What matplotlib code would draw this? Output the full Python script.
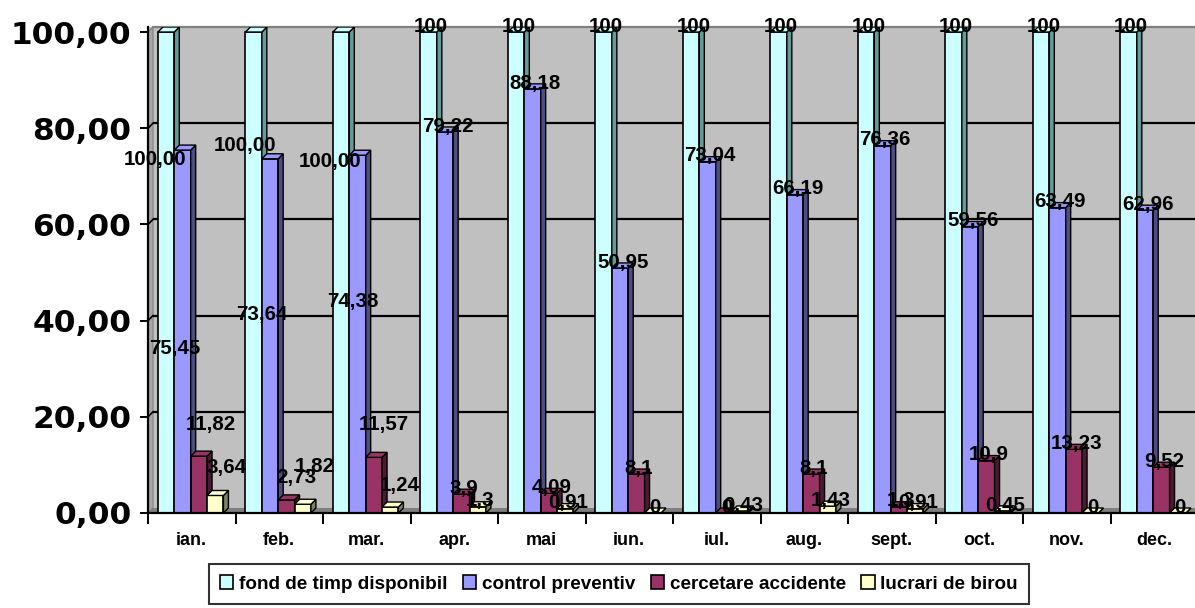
import matplotlib
matplotlib.use("Agg")
import matplotlib.pyplot as plt
from matplotlib.patches import Polygon, Patch
import numpy as np

# ---------------- data ----------------
months = ["ian.", "feb.", "mar.", "apr.", "mai", "iun.", "iul.", "aug.", "sept.", "oct.", "nov.", "dec."]
series_names = ["fond de timp disponibil", "control preventiv", "cercetare accidente", "lucrari de birou"]
fond = [100, 100, 100, 100, 100, 100, 100, 100, 100, 100, 100, 100]
control = [75.45, 73.64, 74.38, 79.22, 88.18, 50.95, 73.04, 66.19, 76.36, 59.56, 63.49, 62.96]
cercetare = [11.82, 2.73, 11.57, 3.9, 4.09, 8.1, 0, 8.1, 1.3, 10.9, 13.23, 9.52]
lucrari = [3.64, 1.82, 1.24, 1.3, 0.91, 0, 0.43, 1.43, 0.91, 0.45, 0, 0]
yticks = [0, 20, 40, 60, 80, 100]
ytick_labels = ["0,00", "20,00", "40,00", "60,00", "80,00", "100,00"]

# label text: first three months shown with two decimals
def fmt(v, m):
    if m < 3:
        return f"{v:.2f}".replace(".", ",")
    s = f"{v:g}"
    return s.replace(".", ",")

# label placement overrides for the first three months (Excel's odd placement)
label_override = {
    (0, 0): (-0.42, 73.4), (0, 1): (-0.19, 34.1), (0, 2): (0.22, 18.3), (0, 3): (0.40, 9.4),
    (1, 0): (0.61, 76.5), (1, 1): (0.80, 41.2), (1, 2): (1.20, 7.3), (1, 3): (1.41, 9.6),
    (2, 0): (1.58, 73.0), (2, 1): (1.84, 43.9), (2, 2): (2.19, 18.5), (2, 3): (2.38, 5.8),
}

# ---------------- style ----------------
front_colors = ["#CCFFFF", "#9999FF", "#993366", "#FFFFCC"]
side_colors = ["#669999", "#4D4D80", "#4D1A33", "#808066"]
top_colors = ["#CCFFFF", "#9999FF", "#993366", "#FFFFCC"]
bar_w = 0.187
offsets = [-0.2925, -0.1055, 0.0815, 0.2685]
dx = 0.057   # depth in x (category units)
dy = 1.04    # depth in y (value units)

W, H = 1195, 608
fig = plt.figure(figsize=(W / 100, H / 100), dpi=100)
fig.patch.set_facecolor("white")
ax = fig.add_axes([148 / W, 95 / H, (1198 - 148) / W, 486 / H])
ax.set_xlim(-0.5, 11.5)
ax.set_ylim(0, 100 + dy)
ax.set_facecolor("#C0C0C0")

x = np.arange(len(months))
data = [fond, control, cercetare, lucrari]

# floor and left wall
ax.add_patch(Polygon([(-0.5, 0), (-0.5 + dx, dy), (12, dy), (12, 0)], closed=True,
                     facecolor="#808080", edgecolor="none", zorder=0.5))
ax.add_patch(Polygon([(-0.5, 0), (-0.5 + dx, dy), (-0.5 + dx, 100 + dy), (-0.5, 100)], closed=True,
                     facecolor="#A6A6A6", edgecolor="#808080", lw=0.8, zorder=0.6))
# gridlines on back wall
for v in yticks[1:-1]:
    ax.plot([-0.5 + dx, 12], [v + dy, v + dy], color="black", lw=1.6, zorder=0.8, solid_capstyle="butt")
    ax.plot([-0.5, -0.5 + dx], [v, v + dy], color="black", lw=1.2, zorder=0.8)
ax.plot([-0.5 + dx, 12], [100 + dy, 100 + dy], color="#808080", lw=1.6, zorder=0.8, clip_on=False)

# bars with 3D faces
z = 2
for m in range(len(months)):
    for s in range(4):
        v = data[s][m]
        x0 = x[m] + offsets[s] - bar_w / 2
        x1 = x0 + bar_w
        ax.bar(x0, v, width=bar_w, align="edge", color=front_colors[s], edgecolor="black",
               lw=1.2, zorder=z)
        ax.add_patch(Polygon([(x1, 0), (x1 + dx, dy), (x1 + dx, v + dy), (x1, v)], closed=True,
                             facecolor=side_colors[s], edgecolor="black", lw=1.0, zorder=z))
        ax.add_patch(Polygon([(x0, v), (x0 + dx, v + dy), (x1 + dx, v + dy), (x1, v)], closed=True,
                             facecolor=top_colors[s], edgecolor="black", lw=1.0, zorder=z))
        z += 0.01

# data labels
for m in range(len(months)):
    for s in range(4):
        v = data[s][m]
        if (m, s) in label_override:
            lx, ly = label_override[(m, s)]
        else:
            lx = x[m] + offsets[s] + 0.03
            ly = v + 1.2
        ax.text(lx, ly, fmt(v, m), ha="center", va="center", fontsize=14.8,
                fontweight="bold", family="Liberation Sans", color="black",
                zorder=10, clip_on=False)

# axes
for side in ["top", "right"]:
    ax.spines[side].set_visible(False)
ax.spines["left"].set_linewidth(1.6)
ax.spines["bottom"].set_linewidth(1.6)
ax.set_yticks(yticks)
ax.set_yticklabels(ytick_labels, fontsize=22.5, fontweight="bold", family="DejaVu Sans")
ax.tick_params(axis="y", length=6, width=1.4, pad=6, direction="out")
ax.set_xticks(x)
ax.set_xticklabels(months, fontsize=13, fontweight="bold", family="Liberation Sans")
ax.tick_params(axis="x", which="major", length=0, pad=14)
ax.set_xticks(np.arange(-0.5, 12, 1), minor=True)
ax.tick_params(axis="x", which="minor", length=8, width=1.4, direction="out")
ax.grid(False)

# legend
handles = [Patch(facecolor=front_colors[i], edgecolor="black", lw=1.2) for i in range(4)]
leg = fig.legend(handles, series_names, loc="center", bbox_to_anchor=(619 / W, 1 - 584 / H),
                 ncol=4, frameon=True, fancybox=False, edgecolor="black",
                 prop={"family": "Liberation Sans", "weight": "bold", "size": 13.6},
                 handlelength=0.7, handleheight=0.7, handletextpad=0.3, columnspacing=0.82,
                 borderpad=0.6, borderaxespad=0)
leg.get_frame().set_linewidth(1.5)

fig.savefig("out.png", dpi=100, facecolor="white")
